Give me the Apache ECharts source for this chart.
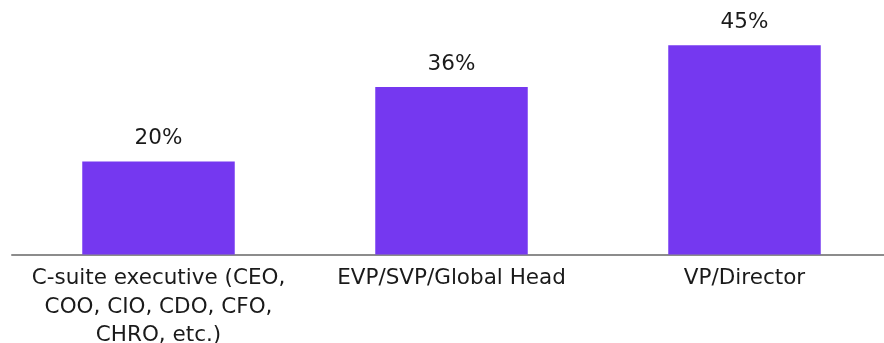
<!DOCTYPE html>
<html>
<head>
<meta charset="utf-8">
<script src="https://cdn.jsdelivr.net/npm/echarts@6/dist/echarts.min.js"></script>
<style>
  html, body { margin: 0; padding: 0; background: #ffffff; }
  #chart { width: 884px; height: 343px; }
</style>
</head>
<body>
<div id="chart"></div>
<script>
// Respondent seniority levels and their share of responses (%)
const categories = [
  'C-suite executive (CEO,\nCOO, CIO, CDO, CFO,\nCHRO, etc.)',
  'EVP/SVP/Global Head',
  'VP/Director'
];
const shares = [20, 36, 45];

const chart = echarts.init(document.getElementById('chart'), null, { renderer: 'canvas' });

chart.setOption({
  animation: false,
  grid: {
    left: 12, width: 879, top: 22, bottom: 88.5,
    containLabel: false,
    outerBoundsMode: 'none'
  },
  xAxis: {
    type: 'category',
    data: categories,
    axisLine: { show: true, lineStyle: { color: '#8c8c8c', width: 2 } },
    axisTick: { show: false },
    axisLabel: {
      interval: 0,
      margin: 10,
      fontFamily: 'DejaVu Sans',
      fontSize: 21.5,
      lineHeight: 28.5,
      color: '#1a1a1a',
      align: 'center'
    }
  },
  yAxis: {
    type: 'value',
    min: 0,
    max: 50,
    show: false,
    splitLine: { show: false }
  },
  series: [{
    type: 'bar',
    data: shares,
    barWidth: 152.5,
    itemStyle: { color: '#7538F0' },
    label: {
      show: true,
      position: 'top',
      distance: 12,
      fontFamily: 'DejaVu Sans',
      fontSize: 21.5,
      color: '#1a1a1a',
      formatter: p => p.value + '%'
    }
  }]
});
</script>
</body>
</html>
